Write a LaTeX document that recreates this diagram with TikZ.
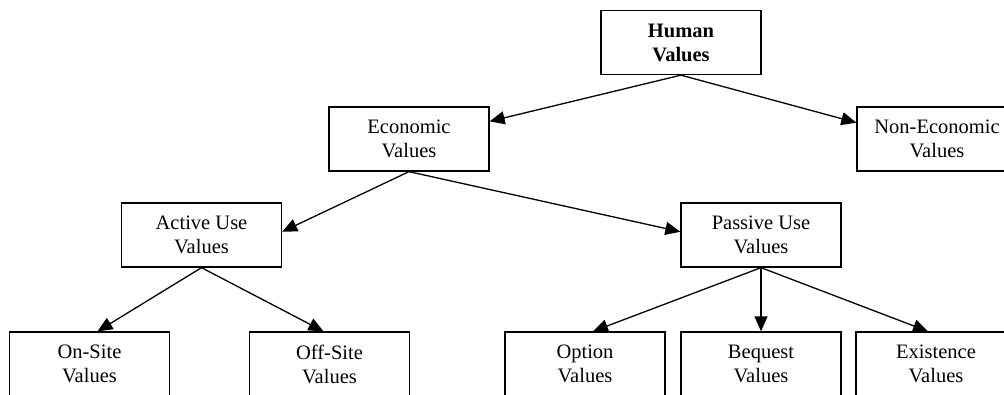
\documentclass[tikz,border=0pt]{standalone}
\usepackage{fontspec}
\setmainfont{Liberation Serif}
\usetikzlibrary{arrows.meta,calc}
\begin{document}
\begin{tikzpicture}[x=1pt,y=-1pt,
  box/.style={draw,line width=1.3pt,minimum width=160pt,minimum height=64pt,inner sep=0pt,align=center,fill=white,font={\fontsize{20.5}{24}\selectfont}},
  boldbox/.style={box,font={\fontsize{20.5}{24}\selectfont\bfseries}},
  arr/.style={line width=1.3pt,-{Triangle[length=15pt,width=13pt]}}]
\clip (0,0) rectangle (1004,394);
\fill[white] (0,0) rectangle (1004,394);
\node[boldbox] (human) at (681,42.5) {Human\\Values};
\node[box] (econ) at (409,139) {Economic\\Values};
\node[box] (nonecon) at (937,139) {Non-Economic\\Values};
\node[box] (active) at (201.5,235) {Active Use\\Values};
\node[box] (passive) at (761,235) {Passive Use\\Values};
\node[box] (onsite) at (89.5,364) {On-Site\\Values};
\node[box] (offsite) at (329.5,364) {Off-Site\\Values};
\node[box] (option) at (585,364) {Option\\Values};
\node[box] (bequest) at (761,364) {Bequest\\Values};
\node[box] (exist) at (936,364) {Existence\\Values};
\draw[arr] (human.south) -- ($(econ.north east)!0.23!(econ.south east)$);
\draw[arr] (human.south) -- ($(nonecon.north west)!0.25!(nonecon.south west)$);
\draw[arr] (econ.south) -- ($(active.north east)!0.45!(active.south east)$);
\draw[arr] (econ.south) -- ($(passive.north west)!0.45!(passive.south west)$);
\draw[arr] (active.south) -- ($(onsite.north)+(8,0)$);
\draw[arr] (active.south) -- ($(offsite.north)+(-6,0)$);
\draw[arr] (passive.south) -- ($(option.north)+(8,0)$);
\draw[arr] (passive.south) -- (bequest.north);
\draw[arr] (passive.south) -- ($(exist.north)+(-8,0)$);
\end{tikzpicture}
\end{document}
